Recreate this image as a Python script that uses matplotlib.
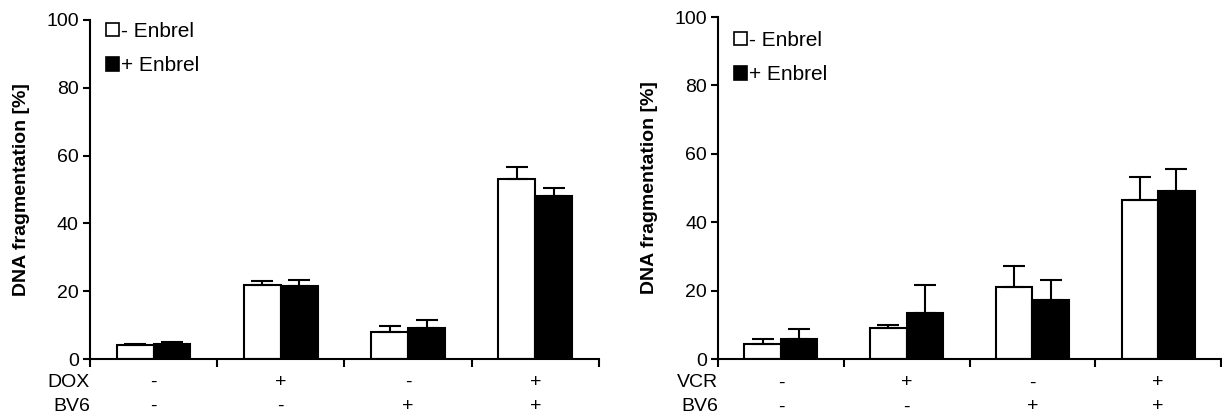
import matplotlib
matplotlib.use("Agg")
import matplotlib.pyplot as plt
from matplotlib.patches import Patch
import numpy as np

plt.rcParams["font.family"] = ["Liberation Sans", "DejaVu Sans"]

# datos
dox_rows = ["-", "+", "-", "+"]
bv6_rows = ["-", "-", "+", "+"]
vcr_rows = ["-", "+", "-", "+"]

dox_sin = [4.0, 21.9, 8.1, 53.0]
dox_sin_err = [0.5, 1.0, 1.5, 3.7]
dox_con = [4.5, 21.4, 9.1, 48.1]
dox_con_err = [0.6, 2.0, 2.5, 2.3]

vcr_sin = [4.3, 9.0, 21.1, 46.5]
vcr_sin_err = [1.5, 0.9, 6.2, 6.6]
vcr_con = [5.9, 13.6, 17.2, 49.1]
vcr_con_err = [3.0, 8.1, 5.9, 6.5]

ancho = 0.29
FS = 14


def panel(ax, sin, sin_err, con, con_err, droga, fila1, fila2, leg_y):
    x = np.arange(len(sin))
    err_kw = dict(ecolor="black", elinewidth=1.5, capsize=8, capthick=1.5)
    ax.bar(x - ancho / 2, sin, ancho, color="white", edgecolor="black", linewidth=1.5,
           yerr=[np.zeros(len(sin)), sin_err], error_kw=err_kw, zorder=2)
    ax.bar(x + ancho / 2, con, ancho, color="black", edgecolor="black", linewidth=1.5,
           yerr=[np.zeros(len(con)), con_err], error_kw=err_kw, zorder=2)

    ax.set_xlim(-0.5, len(sin) - 0.5)
    ax.set_ylim(0, 100)
    ax.set_yticks(range(0, 101, 20))
    ax.set_xticks(np.arange(-0.5, len(sin), 1.0))
    ax.set_xticklabels([])
    ax.tick_params(axis="y", labelsize=FS, direction="out", length=5, width=1.5, pad=3)
    ax.tick_params(axis="x", direction="out", length=6, width=1.5)
    for s in ("top", "right"):
        ax.spines[s].set_visible(False)
    for s in ("left", "bottom"):
        ax.spines[s].set_linewidth(1.5)

    ax.set_ylabel("DNA fragmentation [%]", fontsize=14, fontweight="bold", labelpad=12)

    trans = ax.get_xaxis_transform()
    ax.text(-0.5, -0.07, droga, transform=trans, ha="right", va="center", fontsize=FS)
    ax.text(-0.5, -0.14, "BV6", transform=trans, ha="right", va="center", fontsize=FS)
    for i in x:
        ax.text(i, -0.07, fila1[i], transform=trans, ha="center", va="center", fontsize=FS)
        ax.text(i, -0.14, fila2[i], transform=trans, ha="center", va="center", fontsize=FS)

    handles = [Patch(facecolor="white", edgecolor="black", linewidth=1.2),
               Patch(facecolor="black", edgecolor="black", linewidth=1.2)]
    ax.legend(handles, ["- Enbrel", "+ Enbrel"], loc="upper left", bbox_to_anchor=(-0.005, leg_y),
              frameon=False, fontsize=15, handlelength=0.6, handleheight=0.6,
              handletextpad=0.12, labelspacing=0.75, borderaxespad=0.5)


fig = plt.figure(figsize=(12.22, 4.16), dpi=100)
ax1 = fig.add_axes([0.0736, 0.137, 0.4166, 0.815])
ax2 = fig.add_axes([0.5876, 0.137, 0.4116, 0.822])

panel(ax1, dox_sin, dox_sin_err, dox_con, dox_con_err, "DOX", dox_rows, bv6_rows, 1.05)
panel(ax2, vcr_sin, vcr_sin_err, vcr_con, vcr_con_err, "VCR", vcr_rows, bv6_rows, 1.015)

fig.savefig("out.png", dpi=100)
